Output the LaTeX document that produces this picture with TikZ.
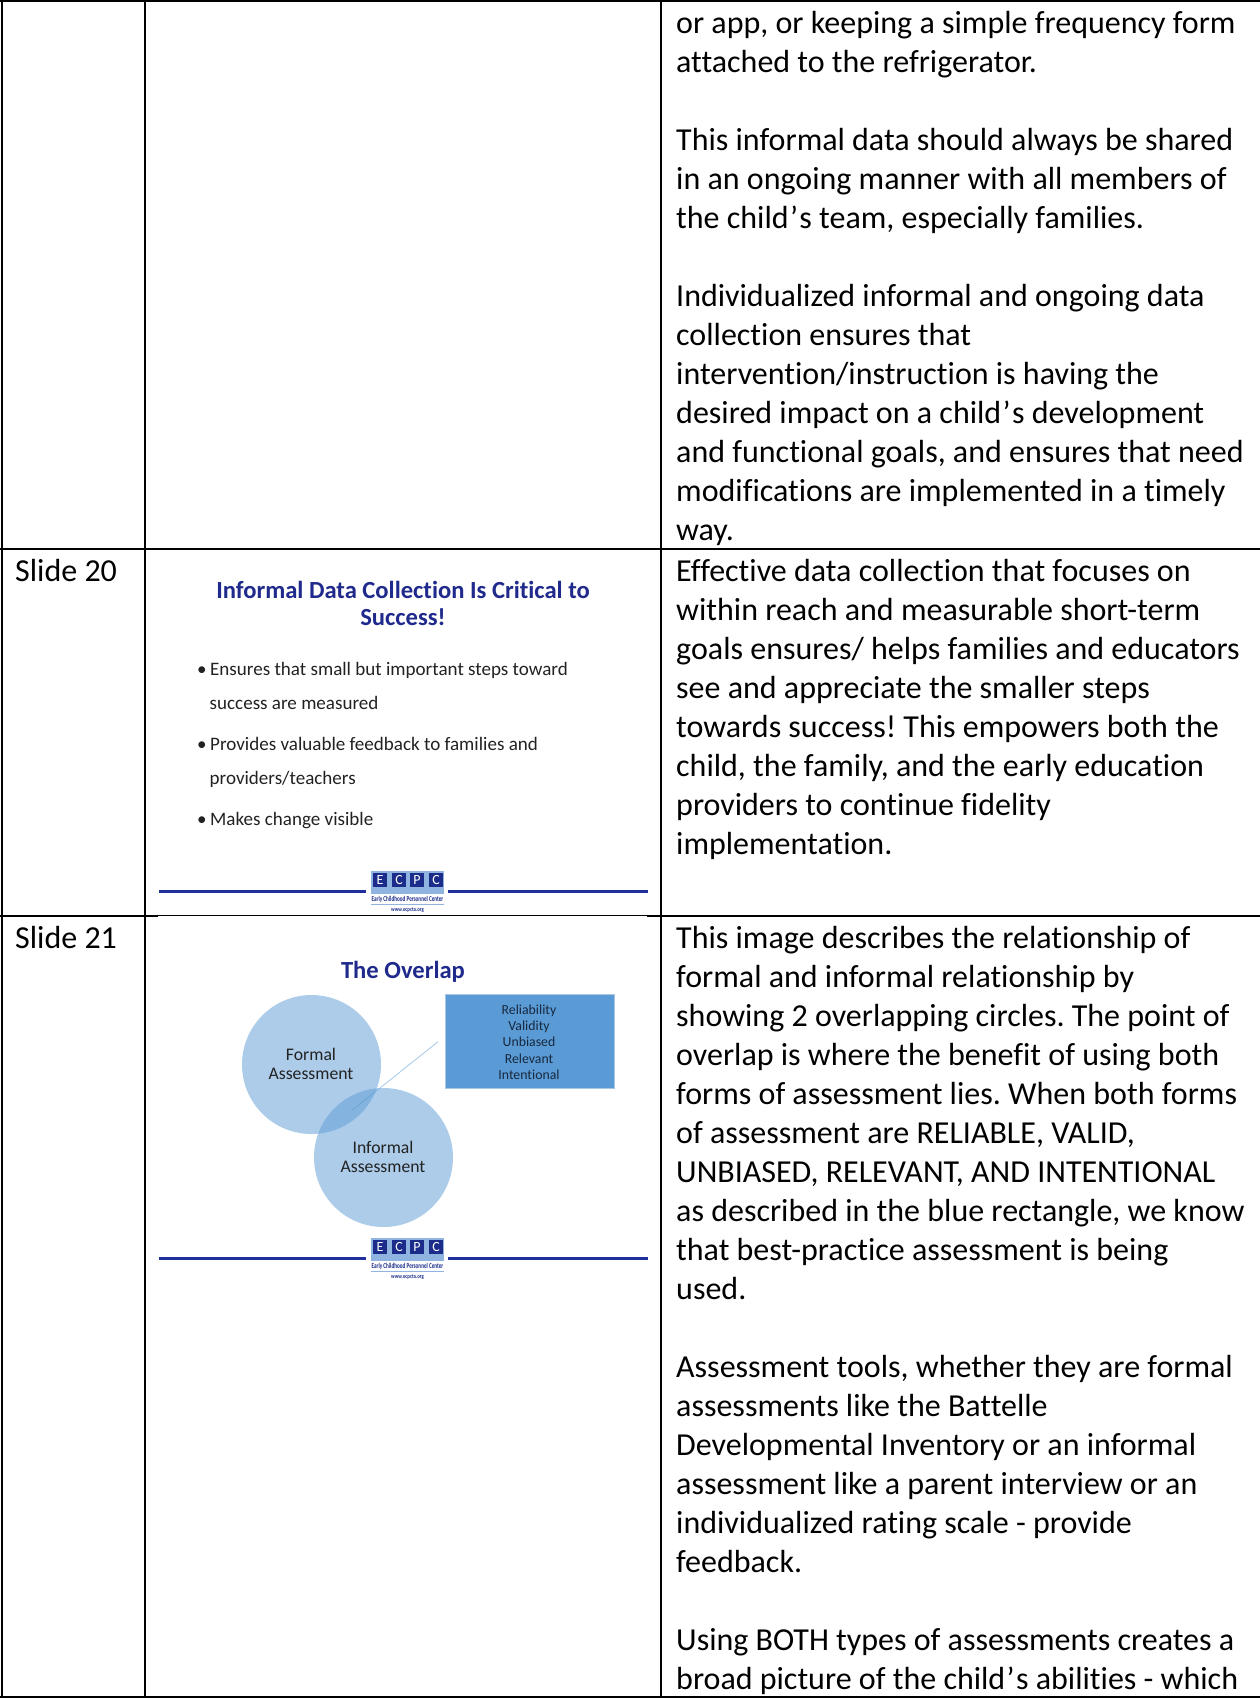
\documentclass[tikz,border=0pt]{standalone}
\usepackage{graphicx}
\usepackage{fontspec}
\setmainfont{Carlito}[Ligatures=NoCommon]
\frenchspacing
\definecolor{slidetitle}{HTML}{1F2A8C}
\definecolor{ecpcblue}{HTML}{1F2F9E}
\definecolor{ecpcdark}{HTML}{1B2C8A}
\definecolor{ecpclight}{HTML}{8FB4E0}
\definecolor{accent}{HTML}{5B9BD5}
\definecolor{accentedge}{HTML}{A9C6E8}
\definecolor{slidetext}{HTML}{222222}
\definecolor{boxtext}{HTML}{17283F}
\newcommand\apos{\hspace{1.4pt}’\hspace{1.4pt}}
\tikzset{x=1pt,y=-1pt,
 rule/.style={draw=black,line width=2pt},
 thinrule/.style={draw=black,line width=1.1pt},
 cell/.style={anchor=base west,inner sep=0pt,font=\fontsize{32}{39}\selectfont,text=black},
 stitle/.style={anchor=base,inner sep=0pt,font=\fontsize{24.6}{30}\selectfont\bfseries,text=slidetitle},
 sbody/.style={anchor=base west,inner sep=0pt,font=\fontsize{19.05}{22}\selectfont,text=slidetext},
 clabel/.style={anchor=base,inner sep=0pt,font=\fontsize{17.7}{22}\selectfont,text=slidetext},
 blabel/.style={anchor=base,inner sep=0pt,font=\fontsize{13.8}{17}\selectfont,text=boxtext},
 lett/.style={anchor=center,inner sep=0pt,font=\fontsize{14}{14}\selectfont,text=white},
 venn/.style={circle,fill=accent,fill opacity=0.5,inner sep=0pt,minimum size=139pt},
}
\newcommand\SA[3]{\node[cell] (#1) at (676,33+#2*39.03) {#3};}
\newcommand\SB[3]{\node[cell] (#1) at (676,581.5+#2*39.03) {#3};}
\newcommand\SC[3]{\node[cell] (#1) at (676,948+#2*39.03) {#3};}
\newcommand\ecpc[2]{%
 \begin{scope}[shift={(0,#2)}]
 \fill[ecpclight] (371,871) rectangle (444,894);
 \foreach \bx/\ltr [count=\i] in {373/E,392/C,410/P,429/C}{
  \fill[ecpcdark] (\bx,873) rectangle ++(14,14);
  \node[lett] (#1-l\i) at (\bx+7,880) {\ltr};
 }
 \draw[ecpcblue,line width=3pt] (159,891) -- (366,891);
 \draw[ecpcblue,line width=3pt] (448,891) -- (648,891);
 \node[anchor=center,inner sep=0pt,font=\fontsize{7.5}{8}\selectfont\bfseries,text=ecpcdark] (#1-name) at (407.5,899) {\scalebox{0.69}[1]{Early Childhood Personnel Center}};
 \draw[ecpclight,line width=0.8pt] (371,904) -- (444,904);
 \node[anchor=center,inner sep=0pt,font=\fontsize{6}{7}\selectfont\bfseries,text=ecpcdark] (#1-url) at (407.5,910) {\scalebox{0.8}[1]{www.ecpcta.org}};
 \end{scope}}
\begin{document}
\begin{tikzpicture}
\useasboundingbox (0,0) rectangle (1260,1698);
\fill[white] (0,0) rectangle (1260,1698);
% table rules
\draw[rule] (0,1) -- (1260,1);
\draw[rule] (0,1697) -- (1260,1697);
\draw[rule] (1.5,0) -- (1.5,1698);
\draw[rule] (145,0) -- (145,1698);
\draw[rule] (661,0) -- (661,1698);
\draw[rule] (0,549) -- (158,549);
\draw[thinrule] (158,549) -- (647,549);
\draw[rule] (647,549) -- (1260,549);
\draw[rule] (0,915.5) -- (158,915.5);
\draw[thinrule] (158,915.5) -- (647,915.5);
\draw[rule] (647,915.5) -- (1260,915.5);
% column 3, first row
\SA{a0}{0}{or app, or keeping a simple frequency form}
\SA{a1}{1}{attached to the refrigerator.}
\SA{a3}{3}{This informal data should always be shared}
\SA{a4}{4}{in an ongoing manner with all members of}
\SA{a5}{5}{the child\apos s team, especially families.}
\SA{a7}{7}{Individualized informal and ongoing data}
\SA{a8}{8}{collection ensures that}
\SA{a9}{9}{intervention/instruction is having the}
\SA{a10}{10}{desired impact on a child\apos s development}
\SA{a11}{11}{and functional goals, and ensures that need}
\SA{a12}{12}{modifications are implemented in a timely}
\SA{a13}{13}{way.}
% slide 20
\node[cell] (s20) at (15,581.5) {Slide 20};
\SB{b0}{0}{Effective data collection that focuses on}
\SB{b1}{1}{within reach and measurable short-term}
\SB{b2}{2}{goals ensures/ helps families and educators}
\SB{b3}{3}{see and appreciate the smaller steps}
\SB{b4}{4}{towards success! This empowers both the}
\SB{b5}{5}{child, the family, and the early education}
\SB{b6}{6}{providers to continue fidelity}
\SB{b7}{7}{implementation.}
\node[stitle] (t20a) at (403,598) {Informal Data Collection Is Critical to};
\node[stitle] (t20b) at (403,625) {Success!};
\node[sbody] (b20a) at (197,675.5) {•\hspace{3.5pt}Ensures that small but important steps toward};
\node[sbody] (b20b) at (209.5,709.5) {success are measured};
\node[sbody] (b20c) at (197,750) {•\hspace{3.5pt}Provides valuable feedback to families and};
\node[sbody] (b20d) at (209.5,784) {providers/teachers};
\node[sbody] (b20e) at (197,825) {•\hspace{3.5pt}Makes change visible};
\ecpc{lg20}{0}
% slide 21
\node[cell] (s21) at (15,948) {Slide 21};
\SC{c0}{0}{This image describes the relationship of}
\SC{c1}{1}{formal and informal relationship by}
\SC{c2}{2}{showing 2 overlapping circles. The point of}
\SC{c3}{3}{overlap is where the benefit of using both}
\SC{c4}{4}{forms of assessment lies. When both forms}
\SC{c5}{5}{of assessment are RELIABLE, VALID,}
\SC{c6}{6}{UNBIASED, RELEVANT, AND INTENTIONAL}
\SC{c7}{7}{as described in the blue rectangle, we know}
\SC{c8}{8}{that best-practice assessment is being}
\SC{c9}{9}{used.}
\SC{c11}{11}{Assessment tools, whether they are formal}
\SC{c12}{12}{assessments like the Battelle}
\SC{c13}{13}{Developmental Inventory or an informal}
\SC{c14}{14}{assessment like a parent interview or an}
\SC{c15}{15}{individualized rating scale - provide}
\SC{c16}{16}{feedback.}
\SC{c18}{18}{Using BOTH types of assessments creates a}
\SC{c19}{19}{broad picture of the child\apos s abilities - which}
\node[stitle] (t21) at (403,978) {The Overlap};
\node[venn] (formal) at (311.5,1064.5) {};
\node[venn] (informal) at (383.5,1157.5) {};
\node[clabel] (f1) at (311,1060) {Formal};
\node[clabel] (f2) at (311,1079) {Assessment};
\node[clabel] (i1) at (383,1153) {Informal};
\node[clabel] (i2) at (383,1172) {Assessment};
\node[draw=accentedge,line width=1pt,fill=accent,minimum width=169pt,minimum height=94.5pt,inner sep=0pt] (relbox) at (529.7,1041.3) {};
\node[blabel] (r1) at (529,1014) {Reliability};
\node[blabel] (r2) at (529,1030.5) {Validity};
\node[blabel] (r3) at (529,1046.5) {Unbiased};
\node[blabel] (r4) at (529,1063) {Relevant};
\node[blabel] (r5) at (529,1079) {Intentional};
\coordinate (ovl) at (351.5,1110.7);
\coordinate (rlead) at (438,1041.7);
\draw[accent,line width=0.8pt,opacity=0.55] (ovl) -- (rlead);
\ecpc{lg21}{367}
\end{tikzpicture}
\end{document}
